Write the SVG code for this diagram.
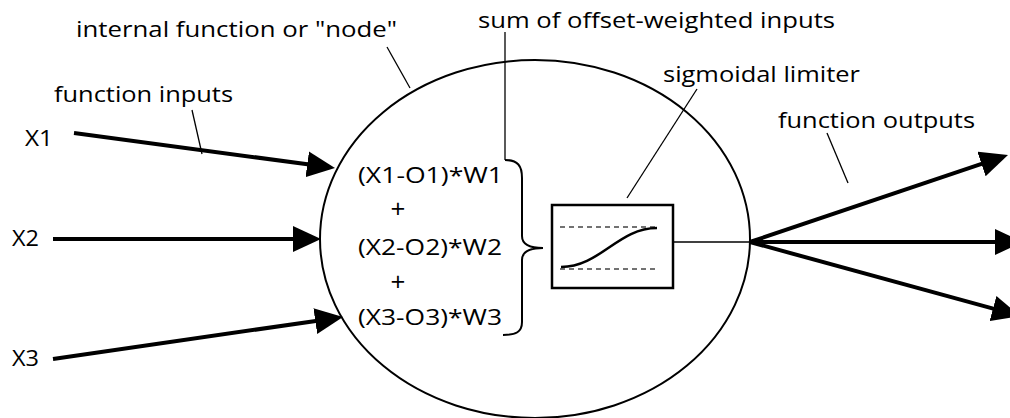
<svg xmlns="http://www.w3.org/2000/svg" width="1010" height="418" viewBox="0 0 1010 418">
<style>
text{font-family:"Open Sans","Noto Sans","Liberation Sans",sans-serif;font-size:22.5px;fill:#000}
.plus{font-size:26px}
.arrow{stroke:#000;stroke-width:4;fill:none;marker-end:url(#ah)}
.lead{stroke:#000;stroke-width:1.3;fill:none}
.thin{stroke:#000;stroke-width:1.4;fill:none}
.dash{stroke:#444;stroke-width:1.3;stroke-dasharray:5 4;fill:none}
</style>
<defs>
<marker id="ah" markerUnits="userSpaceOnUse" markerWidth="28" markerHeight="26" viewBox="0 0 28 26" refX="4" refY="13" orient="auto">
<path d="M0,0 L28,13 L0,26 z" fill="#000"/>
</marker>
</defs>
<rect width="1010" height="418" fill="#fff"/>
<g id="node">
<ellipse cx="535" cy="239" rx="215" ry="179" fill="none" stroke="#000" stroke-width="2"/>
</g>
<g id="sum">
<text x="358" y="183" textLength="145" lengthAdjust="spacingAndGlyphs">(X1-O1)*W1</text>
<text class="plus" x="398" y="218" text-anchor="middle">+</text>
<text x="358" y="255" textLength="144" lengthAdjust="spacingAndGlyphs">(X2-O2)*W2</text>
<text class="plus" x="398" y="291" text-anchor="middle">+</text>
<text x="358" y="325" textLength="144" lengthAdjust="spacingAndGlyphs">(X3-O3)*W3</text>
<path d="M505,160 C518,160 522,166 522,178 L522,236 C522,244 530,248 543,248 C530,248 522,252 522,260 L522,322 C522,332 516,335 503,335" fill="none" stroke="#000" stroke-width="2"/>
</g>
<g id="limiter">
<rect x="552" y="205" width="121" height="83" fill="#fff" stroke="#000" stroke-width="2.5"/>
<line class="dash" x1="560" y1="227" x2="659" y2="227"/>
<line class="dash" x1="560" y1="269" x2="659" y2="269"/>
<path d="M561,267 C600,267 618,228 657,228" fill="none" stroke="#000" stroke-width="2.5"/>
</g>
<g id="inputs">
<text x="25" y="146" textLength="28" lengthAdjust="spacingAndGlyphs">X1</text>
<text x="12" y="246" textLength="27" lengthAdjust="spacingAndGlyphs">X2</text>
<text x="12" y="366" textLength="27" lengthAdjust="spacingAndGlyphs">X3</text>
</g>
<g id="labels">
<text x="76" y="37" textLength="321" lengthAdjust="spacingAndGlyphs">internal function or "node"</text>
<text x="54" y="102" textLength="179" lengthAdjust="spacingAndGlyphs">function inputs</text>
<text x="478" y="28" textLength="357" lengthAdjust="spacingAndGlyphs">sum of offset-weighted inputs</text>
<text x="663" y="82" textLength="197" lengthAdjust="spacingAndGlyphs">sigmoidal limiter</text>
<text x="778" y="128" textLength="197" lengthAdjust="spacingAndGlyphs">function outputs</text>
</g>
<g id="connectors">
<line class="arrow" x1="74" y1="133" x2="311.2" y2="164.8"/>
<line class="arrow" x1="53" y1="239" x2="297" y2="239"/>
<line class="arrow" x1="53" y1="359" x2="319.25" y2="320.44"/>
<line class="thin" x1="673" y1="242" x2="750" y2="242"/>
<line class="arrow" x1="750" y1="242" x2="985.26" y2="162.67"/>
<line class="arrow" x1="750" y1="242" x2="999" y2="242"/>
<line class="arrow" x1="750" y1="242" x2="996.85" y2="309.66"/>
<line class="lead" x1="387" y1="47" x2="410" y2="88"/>
<line class="lead" x1="192" y1="110" x2="202" y2="154"/>
<line class="lead" x1="505" y1="32" x2="505" y2="160"/>
<line class="lead" x1="697" y1="89" x2="627" y2="198"/>
<line class="lead" x1="827" y1="133" x2="848" y2="183"/>
</g>
</svg>
